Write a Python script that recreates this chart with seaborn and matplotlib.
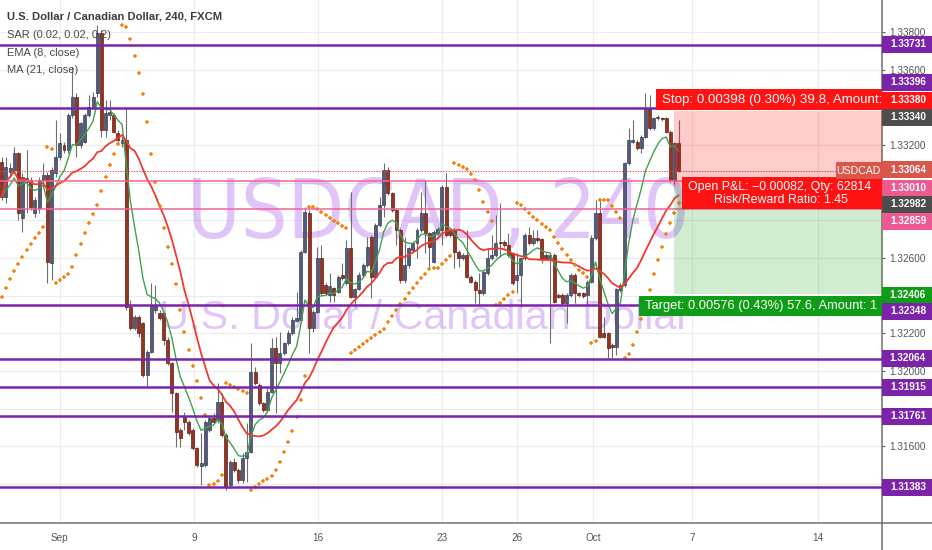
import numpy as np
import pandas as pd
import matplotlib
matplotlib.use("Agg")
import matplotlib.pyplot as plt
import seaborn as sns
from matplotlib.patches import Rectangle
from matplotlib.lines import Line2D
import matplotlib.font_manager as fm

sns.set_theme(style="white")
plt.rcParams["font.family"] = ["Liberation Sans", "DejaVu Sans"]

# ---------------- data (USDCAD, 4H, FXCM) ----------------
opens = [1.33112, 1.32926, 1.33058, 1.33067, 1.33156, 1.32811, 1.33005, 1.33014, 1.32837, 1.32864,
         1.33014, 1.33041, 1.32572, 1.33050, 1.33138, 1.33200, 1.33174, 1.33359, 1.33457, 1.33200,
         1.33218, 1.33359, 1.33404, 1.33474, 1.33793, 1.33280, 1.33359, 1.33359, 1.33266, 1.33209,
         1.33227, 1.32342, 1.32227, 1.32289, 1.32253, 1.31979, 1.32103, 1.32324, 1.32306, 1.32306,
         1.32165, 1.32041, 1.31881, 1.31687, 1.31758, 1.31731, 1.31687, 1.31589, 1.31496, 1.31501,
         1.31687, 1.31749, 1.31740, 1.31837, 1.31660, 1.31395, 1.31519, 1.31474, 1.31421, 1.31536,
         1.31572, 1.31996, 1.31926, 1.31828, 1.31793, 1.31890, 1.32120, 1.32041, 1.32094, 1.32147,
         1.32200, 1.32267, 1.32271, 1.32634, 1.32837, 1.32227, 1.32315, 1.32598, 1.32457, 1.32404,
         1.32439, 1.32421, 1.32510, 1.32466, 1.32651, 1.32395, 1.32434, 1.32510, 1.32563, 1.32713,
         1.32501, 1.32775, 1.32881, 1.33067, 1.32943, 1.32855, 1.32749, 1.32483, 1.32563, 1.32643,
         1.32678, 1.32749, 1.32837, 1.32731, 1.32581, 1.32731, 1.32749, 1.32979, 1.32749, 1.32749,
         1.32634, 1.32598, 1.32616, 1.32501, 1.32474, 1.32430, 1.32412, 1.32519, 1.32598, 1.32616,
         1.32687, 1.32687, 1.32669, 1.32625, 1.32483, 1.32510, 1.32598, 1.32722, 1.32678, 1.32704,
         1.32699, 1.32616, 1.32593, 1.32616, 1.32404, 1.32404, 1.32359, 1.32404, 1.32510, 1.32412,
         1.32412, 1.32404, 1.32474, 1.32704, 1.32837, 1.32200, 1.32200, 1.32138, 1.32129, 1.32430,
         1.32457, 1.33103, 1.33218, 1.33218, 1.33182, 1.33244, 1.33395, 1.33289, 1.33342, 1.33342,
         1.33342, 1.33271, 1.33014, 1.33209]
highs = [1.33138, 1.33138, 1.33103, 1.33191, 1.33165, 1.33050, 1.33174, 1.33032, 1.32926, 1.33032,
         1.33103, 1.33058, 1.33085, 1.33333, 1.33262, 1.33218, 1.33368, 1.33616, 1.33474, 1.33324,
         1.33368, 1.33466, 1.33483, 1.33837, 1.33811, 1.33439, 1.33439, 1.33368, 1.33280, 1.33244,
         1.33395, 1.32377, 1.32297, 1.32297, 1.32262, 1.32112, 1.32466, 1.32457, 1.32324, 1.32315,
         1.32182, 1.32050, 1.31890, 1.31696, 1.31784, 1.31740, 1.31696, 1.31598, 1.31669, 1.31740,
         1.31758, 1.31775, 1.31935, 1.31881, 1.31669, 1.31527, 1.31536, 1.31483, 1.31563, 1.31722,
         1.32147, 1.32023, 1.31935, 1.31837, 1.31917, 1.32173, 1.32182, 1.32209, 1.32156, 1.32218,
         1.32289, 1.32421, 1.32643, 1.32873, 1.32855, 1.32324, 1.32660, 1.32669, 1.32466, 1.32519,
         1.32448, 1.32510, 1.32572, 1.32696, 1.32952, 1.32439, 1.32527, 1.32572, 1.32713, 1.32722,
         1.32784, 1.32926, 1.33103, 1.33085, 1.32952, 1.32864, 1.32758, 1.32713, 1.32660, 1.32687,
         1.32758, 1.32952, 1.33014, 1.32740, 1.32749, 1.32766, 1.32988, 1.33050, 1.32758, 1.32758,
         1.32643, 1.32625, 1.32749, 1.32510, 1.32483, 1.32519, 1.32536, 1.32651, 1.32722, 1.32828,
         1.32890, 1.32696, 1.32731, 1.32634, 1.32625, 1.32607, 1.32731, 1.32766, 1.32749, 1.32749,
         1.32704, 1.32625, 1.32625, 1.32625, 1.32412, 1.32412, 1.32412, 1.32519, 1.32519, 1.32421,
         1.32421, 1.32483, 1.32722, 1.32908, 1.32908, 1.32289, 1.32209, 1.32147, 1.32439, 1.32466,
         1.33112, 1.33289, 1.33333, 1.33227, 1.33253, 1.33474, 1.33466, 1.33351, 1.33359, 1.33351,
         1.33351, 1.33280, 1.33218, 1.33333]
lows = [1.32908, 1.32890, 1.33032, 1.33050, 1.32802, 1.32740, 1.32837, 1.32855, 1.32820, 1.32837,
        1.32979, 1.32466, 1.32483, 1.33032, 1.33120, 1.33156, 1.33156, 1.33342, 1.33138, 1.33182,
        1.33209, 1.33351, 1.33395, 1.33457, 1.33244, 1.33244, 1.33333, 1.33262, 1.33209, 1.33191,
        1.32324, 1.32218, 1.32218, 1.32182, 1.31970, 1.31917, 1.32094, 1.32306, 1.32271, 1.32138,
        1.32032, 1.31784, 1.31598, 1.31598, 1.31687, 1.31660, 1.31581, 1.31492, 1.31395, 1.31492,
        1.31678, 1.31722, 1.31722, 1.31651, 1.31368, 1.31377, 1.31465, 1.31404, 1.31404, 1.31412,
        1.31563, 1.31926, 1.31819, 1.31784, 1.31784, 1.31881, 1.31775, 1.31988, 1.32085, 1.32138,
        1.32191, 1.32262, 1.32262, 1.32625, 1.32094, 1.32209, 1.32306, 1.32404, 1.32404, 1.32368,
        1.32368, 1.32412, 1.32483, 1.32457, 1.32386, 1.32342, 1.32430, 1.32501, 1.32554, 1.32386,
        1.32492, 1.32766, 1.32820, 1.32935, 1.32846, 1.32669, 1.32466, 1.32466, 1.32545, 1.32634,
        1.32598, 1.32740, 1.32625, 1.32545, 1.32572, 1.32722, 1.32669, 1.32713, 1.32713, 1.32545,
        1.32554, 1.32589, 1.32492, 1.32466, 1.32359, 1.32350, 1.32404, 1.32510, 1.32589, 1.32607,
        1.32607, 1.32660, 1.32607, 1.32457, 1.32412, 1.32342, 1.32589, 1.32669, 1.32669, 1.32687,
        1.32572, 1.32589, 1.32147, 1.32359, 1.32386, 1.32350, 1.32253, 1.32395, 1.32359, 1.32395,
        1.32386, 1.32350, 1.32466, 1.32696, 1.32173, 1.32173, 1.32067, 1.32067, 1.32085, 1.32421,
        1.32448, 1.33094, 1.33209, 1.33174, 1.33156, 1.33235, 1.33280, 1.33280, 1.33333, 1.33329,
        1.33262, 1.33005, 1.32988, 1.33058]
closes = [1.32926, 1.33085, 1.33076, 1.33156, 1.32837, 1.33032, 1.33023, 1.32873, 1.32908, 1.33014,
          1.33041, 1.32581, 1.33067, 1.33138, 1.33209, 1.33174, 1.33359, 1.33457, 1.33200, 1.33315,
          1.33359, 1.33404, 1.33457, 1.33793, 1.33280, 1.33368, 1.33377, 1.33271, 1.33227, 1.33227,
          1.32342, 1.32227, 1.32289, 1.32200, 1.31979, 1.32103, 1.32350, 1.32350, 1.32280, 1.32165,
          1.32041, 1.31881, 1.31678, 1.31642, 1.31731, 1.31669, 1.31589, 1.31501, 1.31510, 1.31731,
          1.31749, 1.31731, 1.31837, 1.31660, 1.31386, 1.31519, 1.31474, 1.31421, 1.31536, 1.31572,
          1.31996, 1.31935, 1.31828, 1.31793, 1.31890, 1.32120, 1.32041, 1.32094, 1.32147, 1.32200,
          1.32271, 1.32280, 1.32634, 1.32846, 1.32227, 1.32315, 1.32598, 1.32412, 1.32412, 1.32451,
          1.32404, 1.32501, 1.32492, 1.32651, 1.32395, 1.32434, 1.32510, 1.32563, 1.32660, 1.32501,
          1.32775, 1.32881, 1.33067, 1.32943, 1.32855, 1.32749, 1.32483, 1.32563, 1.32651, 1.32678,
          1.32749, 1.32837, 1.32731, 1.32660, 1.32740, 1.32752, 1.32979, 1.32722, 1.32722, 1.32634,
          1.32598, 1.32616, 1.32501, 1.32474, 1.32430, 1.32412, 1.32527, 1.32598, 1.32616, 1.32678,
          1.32678, 1.32669, 1.32616, 1.32466, 1.32510, 1.32598, 1.32722, 1.32678, 1.32704, 1.32696,
          1.32593, 1.32598, 1.32616, 1.32368, 1.32395, 1.32359, 1.32404, 1.32510, 1.32412, 1.32404,
          1.32398, 1.32474, 1.32704, 1.32837, 1.32182, 1.32182, 1.32120, 1.32129, 1.32434, 1.32457,
          1.33103, 1.33227, 1.33227, 1.33182, 1.33244, 1.33395, 1.33289, 1.33342, 1.33351, 1.33336,
          1.33271, 1.33014, 1.33209, 1.33064]

# Parabolic SAR state at the first visible bar
sar_start, sar_ep_start, sar_af_start = 1.32395, 1.33191, 0.06

purple_levels = [1.33731, 1.33396, 1.32348, 1.32064, 1.31915, 1.31761, 1.31383]
pink_levels = [1.33010, 1.32859]
last_price = 1.33064
entry_price, stop_price, target_price = 1.32982, 1.33380, 1.32406
entry_bar = 162

x_tick_pos = [14.0, 46.3, 76.2, 106.0, 124.1, 142.4, 166.2, 196.6]
x_tick_labels = ["Sep", "9", "16", "23", "26", "Oct", "7", "14"]
y_ticks = [1.314, 1.316, 1.318, 1.320, 1.322, 1.324, 1.326, 1.328, 1.330, 1.332, 1.334, 1.336, 1.338]
# tick labels that the coloured price labels cover completely are left blank
y_tick_labels = ["", "1.31600", "", "1.32000", "1.32200", "", "1.32600", "", "", "1.33200", "",
                 "1.33600", "1.33800"]

PURPLE, PINK, RED, DARK, CORAL, GREEN = "#7b24aa", "#ec5a91", "#ff1212", "#4d4d4d", "#d9574a", "#0f9d18"
price_labels = ["1.33731", "1.33396", "1.33380", "1.33340", "1.33064", "1.33010", "1.32982",
                "1.32859", "1.32406", "1.32348", "1.32064", "1.31915", "1.31761", "1.31383"]
price_label_colors = [PURPLE, PURPLE, RED, DARK, CORAL, PINK, DARK, PINK, GREEN,
                      PURPLE, PURPLE, PURPLE, PURPLE, PURPLE]
price_label_ypx = [44, 82, 100, 117, 170, 188, 204, 221, 295, 311, 358, 387, 416, 487]

# ---------------- derived series ----------------
o = np.array(opens); h = np.array(highs); l = np.array(lows); c = np.array(closes)
bars = np.arange(len(c))
ema = pd.Series(c).ewm(span=8, adjust=False).mean().values
ma = pd.Series(c).rolling(21, min_periods=1).mean().values


def psar(high, low, s0, ep0, af0, start=0.02, inc=0.02, mx=0.2):
    n = len(high)
    out = np.empty(n)
    up, s, ep, af = True, s0, ep0, af0
    out[0] = s
    for i in range(1, n):
        s = s + af * (ep - s)
        if up:
            s = min(s, low[i - 1], low[max(i - 2, 0)])
            if low[i] < s:
                up, s, ep, af = False, ep, low[i], start
            elif high[i] > ep:
                ep, af = high[i], min(af + inc, mx)
        else:
            s = max(s, high[i - 1], high[max(i - 2, 0)])
            if high[i] > s:
                up, s, ep, af = True, ep, high[i], start
            elif low[i] < ep:
                ep, af = low[i], min(af + inc, mx)
        out[i] = s
    return out


sar = psar(h, l, sar_start, sar_ep_start, sar_af_start)

# narrow face for the big watermark, if one is installed
narrow_fp = None
for pref in ["LiberationSansNarrow-Regular", "DejaVuSansCondensed.ttf", "RobotoCondensed-Regular"]:
    for f in fm.fontManager.ttflist:
        if pref.lower() in f.fname.lower().replace("\\", "/").split("/")[-1]:
            narrow_fp = fm.FontProperties(fname=f.fname)
            break
    if narrow_fp is not None:
        break

# ---------------- figure / layout ----------------
W, H = 932, 550
AX_R, AX_B = 882, 523
fig = plt.figure(figsize=(W / 100, H / 100), dpi=100)
fig.patch.set_facecolor("white")
ax = fig.add_axes([0, 1 - AX_B / H, AX_R / W, AX_B / H])
Y_TOP, Y_BOT = 1.339699, 1.311925
X_L, X_R = -0.41, 211.97
ax.set_ylim(Y_BOT, Y_TOP)
ax.set_xlim(X_L, X_R)


def py(ypx):
    return Y_TOP - ypx / AX_B * (Y_TOP - Y_BOT)


def bx(xpx):
    return X_L + xpx / AX_R * (X_R - X_L)


ax.set_facecolor("white")
for s in ["top", "left"]:
    ax.spines[s].set_visible(False)
for s in ["bottom", "right"]:
    ax.spines[s].set_color("#7a7a7a")
    ax.spines[s].set_linewidth(1.2)
fig.add_artist(Line2D([AX_R / W, 1], [1 - AX_B / H] * 2, color="#7a7a7a", lw=1.2))
fig.add_artist(Line2D([AX_R / W] * 2, [0, 1 - AX_B / H], color="#7a7a7a", lw=1.2))

ax.yaxis.tick_right()
ax.set_yticks(y_ticks)
ax.set_yticklabels(y_tick_labels)
ax.set_xticks(x_tick_pos)
ax.set_xticklabels(x_tick_labels)
ax.tick_params(axis="y", length=2.5, pad=2.5, labelsize=7.2, colors="#555555", width=0.8)
ax.tick_params(axis="x", length=3, pad=4, labelsize=7.2, colors="#555555", width=0.8)
ax.grid(True, color="#ececec", lw=0.8)
ax.set_axisbelow(True)

# watermark
wm_kw = dict(ha="center", va="center", color="#b46ef0", alpha=0.4, zorder=1.2)
if narrow_fp is not None:
    wm1 = ax.text(bx(438), py(215), "USDCAD, 240", fontproperties=narrow_fp, **wm_kw)
    wm1.set_fontsize(60)
else:
    wm1 = ax.text(bx(438), py(215), "USDCAD, 240", fontsize=60, **wm_kw)
wm2 = ax.text(bx(425), py(318), "U.S. Dollar / Canadian Dollar", fontsize=30, **wm_kw)

# candles
up = c >= o
body_lo = np.minimum(o, c)
body_h = np.maximum(np.abs(c - o), 0.00003)
ax.vlines(bars, l, h, color="#6e6e6e", lw=0.8, zorder=2.8)
ax.bar(bars[up], body_h[up], bottom=body_lo[up], width=0.72, color="#545b78",
       edgecolor="#3a4058", linewidth=0.5, zorder=3)
ax.bar(bars[~up], body_h[~up], bottom=body_lo[~up], width=0.72, color="#983324",
       edgecolor="#5e1e15", linewidth=0.5, zorder=3)

# indicators
sns.lineplot(x=bars, y=ema, ax=ax, color="#3fa34d", linewidth=1.0, zorder=4)
sns.lineplot(x=bars, y=ma, ax=ax, color="#ee3b30", linewidth=1.3, zorder=4)
ax.plot(bars, sar, linestyle="none", marker="+", ms=3.2, mew=1.1, color="#f5820f", zorder=4.2)

# horizontal drawings
for lv in purple_levels:
    ax.axhline(lv, color=PURPLE, lw=1.8, zorder=4.5)
for lv in pink_levels:
    ax.axhline(lv, color="#f0649a", lw=1.1, zorder=4.5)
ax.axhline(last_price, color="#d9534f", lw=0.8, ls=(0, (1.2, 1.2)), zorder=4.4)

# short position tool
ax.add_patch(Rectangle((entry_bar, entry_price), X_R - entry_bar, stop_price - entry_price,
                       facecolor="#ff0000", alpha=0.2, lw=0, zorder=4.6))
ax.add_patch(Rectangle((entry_bar, target_price), X_R - entry_bar, entry_price - target_price,
                       facecolor="#009a00", alpha=0.18, lw=0, zorder=4.6))

TXT = dict(color="white", zorder=6, clip_on=True)
ax.add_patch(Rectangle((bx(656), py(110)), X_R - bx(656), py(89) - py(110),
                       facecolor=RED, lw=0, zorder=5.5))
ax.text(bx(662), py(99.5), "Stop: 0.00398 (0.30%) 39.8, Amount:", ha="left", va="center",
        fontsize=9.6, **TXT)

ax.add_patch(Rectangle((bx(682), py(209)), X_R - bx(682), py(177) - py(209),
                       facecolor=RED, lw=0, zorder=5.5))
ax.text(bx(688), py(187), "Open P&L: \u22120.00082, Qty: 62814", ha="left", va="center",
        fontsize=8.9, **TXT)
ax.text(bx(781), py(199.5), "Risk/Reward Ratio: 1.45", ha="center", va="center",
        fontsize=8.9, **TXT)

ax.add_patch(Rectangle((bx(639), py(316)), X_R - bx(639), py(296) - py(316),
                       facecolor=GREEN, lw=0, zorder=5.5))
ax.text(bx(645), py(305.5), "Target: 0.00576 (0.43%) 57.6, Amount: 1", ha="left", va="center",
        fontsize=9.3, **TXT)

ax.add_patch(Rectangle((bx(836), py(179)), X_R - bx(836), py(162) - py(179),
                       facecolor=CORAL, lw=0, zorder=5.5))
ax.text(bx(858.5), py(170.5), "USDCAD", ha="center", va="center", color="white",
        fontsize=7.6, zorder=6, clip_on=True)

# right-hand price labels
for txt, col, ypx in zip(price_labels, price_label_colors, price_label_ypx):
    fig.add_artist(Rectangle((AX_R / W, 1 - (ypx + 8.5) / H), (W - AX_R) / W, 17 / H,
                             facecolor=col, lw=0, transform=fig.transFigure, zorder=5))
    fig.text((AX_R + 26) / W, 1 - ypx / H, txt, ha="center", va="center", color="white",
             fontsize=7.2, fontweight="bold", zorder=6)

# legend (top-left)
fig.text(7 / W, 1 - 16.5 / H, "U.S. Dollar / Canadian Dollar, 240, FXCM", ha="left", va="center",
         color="#3c3c3c", fontsize=8.1, fontweight="bold", zorder=7)
for ytxt, s in [(35, "SAR (0.02, 0.02, 0.2)"), (52.5, "EMA (8, close)"), (70, "MA (21, close)")]:
    fig.text(7 / W, 1 - ytxt / H, s, ha="left", va="center", color="#4a4a4a", fontsize=8.0, zorder=7)

# fit watermark widths
fig.canvas.draw()
for t, target in [(wm1, 503), (wm2, 530)]:
    w = t.get_window_extent().width
    t.set_fontsize(t.get_fontsize() * target / w)

fig.savefig("out.png", dpi=100, facecolor="white")
